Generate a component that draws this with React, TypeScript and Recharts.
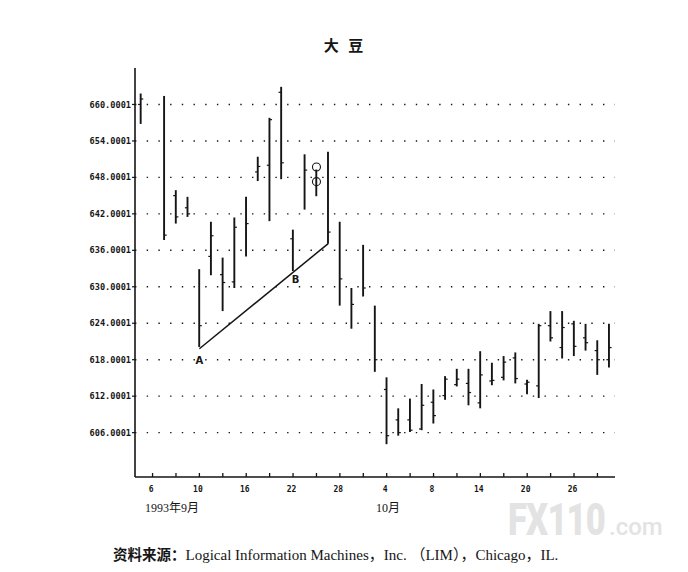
import { ComposedChart, Bar, Line, XAxis, YAxis, ReferenceLine, ReferenceDot } from "recharts";

if (typeof document !== "undefined") document.body.style.margin = "0";

// trading days, Sept 3 – Oct 29 1993 (9/6 Labor Day, no trading)
const DATES = [
  "9/3", "9/6", "9/7", "9/8", "9/9", "9/10", "9/13", "9/14", "9/15", "9/16", "9/17",
  "9/20", "9/21", "9/22", "9/23", "9/24", "9/27", "9/28", "9/29", "9/30", "10/1",
  "10/4", "10/5", "10/6", "10/7", "10/8", "10/11", "10/12", "10/13", "10/14", "10/15",
  "10/18", "10/19", "10/20", "10/21", "10/22", "10/25", "10/26", "10/27", "10/28", "10/29",
];
const HIGH = [
  661.8, null, 661.4, 645.9, 644.8, 632.9, 640.7, 634.8, 641.4, 644.8, 651.4,
  657.8, 662.9, 639.4, 651.8, 649.3, 652.2, 640.7, 629.8, 636.9, 626.9,
  615.1, 610.0, 611.6, 614.0, 613.1, 615.3, 616.5, 616.5, 619.4, 617.5,
  618.6, 619.2, 614.7, 623.9, 626.0, 626.0, 624.4, 623.9, 621.2, 623.9,
];
const LOW = [
  656.8, null, 637.7, 640.4, 641.5, 620.1, 631.9, 626.0, 629.8, 635.0, 647.4,
  640.8, 647.7, 632.6, 642.7, 644.9, 637.1, 626.9, 623.1, 628.4, 616.0,
  604.1, 605.5, 606.1, 606.4, 607.5, 611.4, 613.6, 610.5, 610.0, 613.8,
  614.6, 614.1, 612.3, 611.7, 621.0, 618.2, 618.6, 619.5, 615.5, 616.7,
];
const OPEN = [
  660.0, null, null, 645.0, 643.0, null, 635.0, 632.0, 630.8, null, 648.9,
  650.0, 662.0, 637.9, null, null, null, null, null, null, null,
  613.1, 608.1, 608.1, 606.6, 611.0, 612.1, 613.9, 614.1, 610.9, 614.5,
  615.1, 618.3, 614.0, 613.7, 623.6, 620.0, 623.9, 621.6, 619.5, 618.0,
];
const CLOSE = [
  660.9, null, 638.5, 641.5, 642.0, 623.6, 638.4, 630.7, 639.8, 640.4, 649.8,
  657.5, 650.4, null, 649.2, null, 639.0, 631.3, 627.1, 629.8, 618.0,
  605.5, 606.0, 606.4, 610.5, 608.8, 614.8, 614.8, 612.6, 615.5, 614.6,
  617.6, 614.9, 614.3, 623.6, 621.6, 623.3, 620.2, 620.8, 618.0, 620.0,
];
// trendline A -> end, drawn under the Sept lows
const TREND_POINTS: Record<string, number> = { "9/10": 619.8, "9/27": 637.1 };
const CIRCLES = [649.7, 647.3]; // marked on 9/24
const Y_TICKS = [606.0001, 612.0001, 618.0001, 624.0001, 630.0001, 636.0001, 642.0001, 648.0001, 654.0001, 660.0001];

const data = DATES.map((date, i) => ({
  date,
  high: HIGH[i],
  low: LOW[i],
  open: OPEN[i],
  close: CLOSE[i],
  range: HIGH[i] == null ? null : [LOW[i], HIGH[i]],
  trend: TREND_POINTS[date] ?? null,
}));

const INK = "#151515";
const MONO = "'DejaVu Sans Mono', monospace";
const SERIF = "'Liberation Serif', 'Noto Sans CJK SC', serif";

const PriceBar = (props: any) => {
  const { x, y, width, height, payload } = props;
  if (payload.high == null || payload.low == null) return null;
  const cx = x + width / 2;
  const top = Math.min(y, y + height);
  const bot = Math.max(y, y + height);
  const k = (bot - top) / (payload.high - payload.low);
  const yOf = (v: number) => top + (payload.high - v) * k;
  return (
    <g stroke={INK}>
      <line x1={cx} x2={cx} y1={top} y2={bot} strokeWidth={1.9} />
      {payload.open != null && (
        <line x1={cx - 2.6} x2={cx} y1={yOf(payload.open)} y2={yOf(payload.open)} strokeWidth={1.2} />
      )}
      {payload.close != null && (
        <line x1={cx} x2={cx + 2.6} y1={yOf(payload.close)} y2={yOf(payload.close)} strokeWidth={1.2} />
      )}
    </g>
  );
};

const DayTick = (props: any) => {
  const { x, y, payload } = props;
  const i = payload.index;
  const day = String(payload.value).split("/")[1];
  return (
    <g>
      {i % 2 === 1 && <line x1={x} x2={x} y1={y} y2={y - 4} stroke={INK} strokeWidth={1.3} />}
      {i % 4 === 1 && (
        <text x={x - 1.5} y={y + 14.5} textAnchor="middle" fontFamily={MONO} fontWeight="bold" fontSize={8} fill={INK}>
          {day}
        </text>
      )}
    </g>
  );
};

const pointLabel = (text: string, dx: number, dy: number) => (p: any) => {
  const vb = p.viewBox || {};
  const cx = (vb.x ?? 0) + (vb.width ?? 0) / 2;
  const cy = (vb.y ?? 0) + (vb.height ?? 0) / 2;
  return (
    <text x={cx + dx} y={cy + dy} textAnchor="middle" fontFamily="'DejaVu Sans', sans-serif" fontWeight="bold" fontSize={10} fill={INK}>
      {text}
    </text>
  );
};

export default function App() {
  return (
    <div style={{ position: "relative", width: 688, height: 572, background: "#fff", overflow: "hidden" }}>
      <div
        style={{
          position: "absolute", left: 0, width: 688, top: 36, textAlign: "center",
          fontFamily: "'Noto Sans CJK SC', sans-serif", fontWeight: 700, fontSize: 15, lineHeight: "18px",
          letterSpacing: 3, color: INK, paddingLeft: 1,
        }}
      >
        大 豆
      </div>
      <div
        style={{
          position: "absolute", left: 508, top: 498, fontFamily: "Roboto, sans-serif", fontWeight: 900,
          fontSize: 44, color: "#e3e3e3", whiteSpace: "nowrap", lineHeight: "44px", height: 44,
        }}
      >
        <span style={{ display: "inline-block", transform: "scaleX(0.785)", transformOrigin: "left", width: 101, letterSpacing: -1 }}>
          FX110
        </span>
        <span style={{ fontSize: 24, fontWeight: 500 }}>.com</span>
      </div>
      <div style={{ position: "absolute", left: 0, top: 0 }}>
        <ComposedChart width={688} height={572} data={data} margin={{ top: 68, right: 73, bottom: 55, left: 85 }}>
          <XAxis
            dataKey="date"
            type="category"
            interval={0}
            height={40}
            tickLine={false}
            tickSize={0}
            tickMargin={0}
            axisLine={{ stroke: INK, strokeWidth: 1.6 }}
            tick={<DayTick />}
          />
          <YAxis
            type="number"
            domain={[598.7, 666]}
            ticks={Y_TICKS}
            width={50}
            tickSize={3}
            tickMargin={1}
            tickFormatter={(v: number) => v.toFixed(4)}
            axisLine={{ stroke: INK, strokeWidth: 1.6 }}
            tickLine={{ stroke: INK, strokeWidth: 1.2 }}
            tick={{ fontFamily: MONO, fontWeight: "bold", fontSize: 8.6, fill: INK }}
          />
          {Y_TICKS.map((t) => (
            <ReferenceLine key={t} y={t} stroke={INK} strokeWidth={1.4} strokeDasharray="1.4 10.3" />
          ))}
          <Bar dataKey="range" shape={<PriceBar />} isAnimationActive={false} />
          <Line
            dataKey="trend"
            type="linear"
            connectNulls
            dot={false}
            activeDot={false}
            stroke={INK}
            strokeWidth={1.5}
            isAnimationActive={false}
          />
          <ReferenceDot x="9/10" y={TREND_POINTS["9/10"]} r={0} stroke="none" label={pointLabel("A", 0, 15)} />
          <ReferenceDot x="9/22" y={632.4} r={0} stroke="none" label={pointLabel("B", 2.5, 11)} />
          {CIRCLES.map((v) => (
            <ReferenceDot key={v} x="9/24" y={v} r={4} fill="none" stroke={INK} strokeWidth={1.1} />
          ))}
        </ComposedChart>
      </div>
      <div style={{ position: "absolute", left: 145, top: 501, fontFamily: SERIF, fontSize: 12, lineHeight: "14px", color: INK, whiteSpace: "nowrap" }}>
        1993年9月
      </div>
      <div style={{ position: "absolute", left: 376, top: 501, fontFamily: SERIF, fontSize: 12, lineHeight: "14px", color: INK, whiteSpace: "nowrap" }}>
        10月
      </div>
      <div style={{ position: "absolute", left: 113, top: 545, fontFamily: SERIF, fontSize: 15, lineHeight: "18px", color: INK, whiteSpace: "nowrap" }}>
        <span style={{ fontFamily: "'Noto Sans CJK SC', sans-serif", fontWeight: 700, fontSize: 14.5 }}>资料来源：</span>
        Logical Information Machines，Inc. （LIM），Chicago，IL.
      </div>
    </div>
  );
}
